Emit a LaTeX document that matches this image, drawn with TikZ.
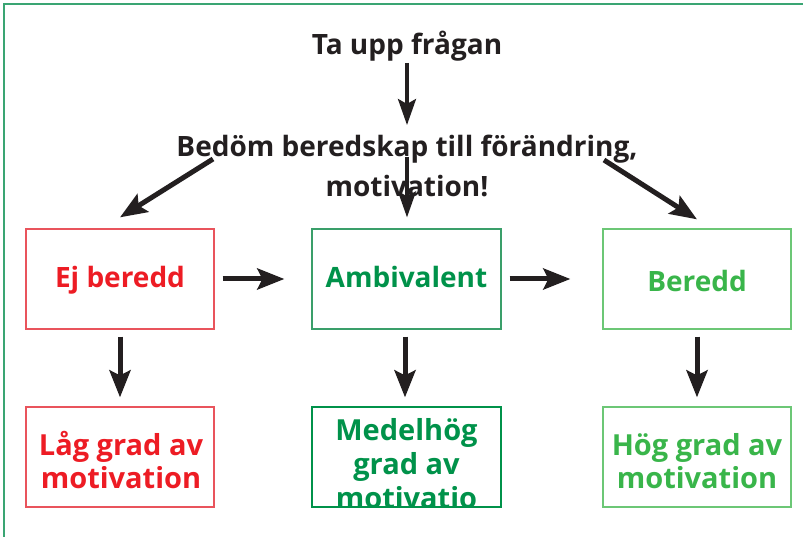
\documentclass[tikz,border=0pt]{standalone}
\usepackage{fontspec}
\setmainfont{Open Sans}
\usetikzlibrary{arrows.meta,calc}
\definecolor{framegreen}{HTML}{3AA573}
\definecolor{redtxt}{HTML}{ED1C24}
\definecolor{redline}{HTML}{E9545C}
\definecolor{dgreen}{HTML}{00924A}
\definecolor{dgreenline}{HTML}{3A9F6A}
\definecolor{lgreen}{HTML}{39B54A}
\definecolor{lgreenline}{HTML}{6CC776}
\definecolor{arrowblack}{HTML}{231F20}
\begin{document}
\begin{tikzpicture}[x=1pt,y=-1pt,
  box/.style={draw,line width=1.3pt,minimum width=188pt,minimum height=100pt,inner sep=0pt},
  txt/.style={font=\bfseries\fontsize{28}{33}\selectfont,inner sep=0pt,align=center},
  lowtxt/.style={font=\bfseries\fontsize{29}{33}\selectfont,inner sep=0pt,align=center},
  bigarrow/.style={draw=arrowblack,line width=5pt,-{Stealth[length=27pt,width=21pt,inset=5pt]}},
  thinarrow/.style={draw=arrowblack,line width=3.5pt,-{Stealth[length=26pt,width=18pt,inset=5pt]}}
]
\useasboundingbox (0,0) rectangle (803,537);
\fill[white] (0,0) rectangle (803,537);
\draw[framegreen,line width=1.5pt] (4,537) -- (4,4) -- (803,4);

% title texts
\node[txt,anchor=base,text=arrowblack] (ta) at (407,55) {Ta upp frågan};
\node[txt,anchor=base,text=arrowblack,font=\bfseries\fontsize{28}{40}\selectfont] (bed) at (407,197) {Bedöm beredskap till förändring,\\motivation!};

% boxes
\node[box,draw=redline] (ej) at (120,279) {};
\node[box,draw=dgreenline,minimum width=189pt] (amb) at (406.5,279) {};
\node[box,draw=lgreenline] (ber) at (697,279) {};
\node[box,draw=redline] (lag) at (120,457) {};
\node[box,draw=dgreen,minimum width=189pt] (med) at (406.5,457) {};
\node[box,draw=lgreenline] (hog) at (697,457) {};

\node[txt,anchor=base,text=redtxt] (ejt) at (120,288) {Ej beredd};
\node[txt,anchor=base,text=dgreen] (ambt) at (406.5,288) {Ambivalent};
\node[txt,anchor=base,text=lgreen] (bert) at (697,291) {Beredd};

\node[lowtxt,anchor=base,text=redtxt] (lagt) at (121,488) {Låg grad av\\motivation};
\node[lowtxt,anchor=base,text=lgreen] (hogt) at (697,488) {Hög grad av\\motivation};
\begin{scope}
  \clip (med.north west) rectangle (med.south east);
  \node[lowtxt,anchor=base,text=dgreen,font=\bfseries\fontsize{29}{34}\selectfont] (medt) at (406.5,508) {Medelhög\\grad av\\motivatio};
\end{scope}
\draw[dgreen,line width=1.3pt] (med.north west) rectangle (med.south east);

% connectors
\coordinate (c0) at (407,157);
\coordinate (l0) at (213,159);
\coordinate (r0) at (604,160);
\coordinate (l1) at ($(ej.north)+(0,-11)$);
\coordinate (r1) at ($(ber.north)+(0,-9)$);
\coordinate (c1) at ($(amb.north)+(0.5,-11)$);
\coordinate (t0) at ($(ta.base)+(0,8)$);
\coordinate (t1) at (407,125);

\draw[thinarrow] (t0) -- (t1);
\draw[thinarrow] (c0) -- (c1);
\draw[bigarrow] (l0) -- (l1);
\draw[bigarrow] (r0) -- (r1);
\draw[bigarrow,shorten <=8pt,shorten >=27pt] (ej.east) -- (amb.west);
\draw[bigarrow,shorten <=8pt,shorten >=32pt] (amb.east) -- (ber.west);
\draw[bigarrow,shorten <=7pt,shorten >=9pt] (ej.south) -- (lag.north);
\draw[bigarrow,shorten <=7pt,shorten >=9pt] ($(amb.south)+(-1.5,0)$) -- ($(med.north)+(-1.5,0)$);
\draw[bigarrow,shorten <=7pt,shorten >=9pt] (ber.south) -- (hog.north);
\end{tikzpicture}
\end{document}
